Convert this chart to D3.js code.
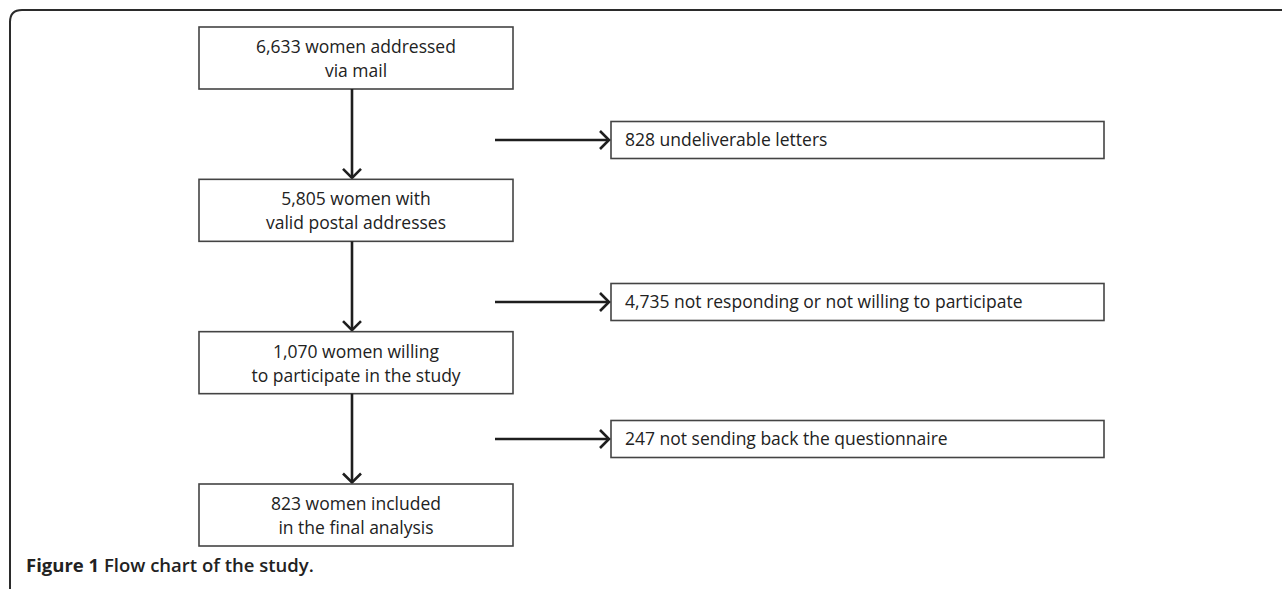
<!DOCTYPE html>
<html>
<head>
<meta charset="utf-8">
<script src="https://cdn.jsdelivr.net/npm/d3@7/dist/d3.min.js"></script>
<style>
  html, body { margin: 0; padding: 0; background: #ffffff; }
  svg { display: block; }
</style>
</head>
<body>
<script>
// ---- data ----
const mainSteps = [
  ["6,633 women addressed", "via mail"],
  ["5,805 women with", "valid postal addresses"],
  ["1,070 women willing", "to participate in the study"],
  ["823 women included", "in the final analysis"]
];
const exclusions = [
  "828 undeliverable letters",
  "4,735 not responding or not willing to participate",
  "247 not sending back the questionnaire"
];
const captionBold = "Figure 1";
const captionText = "Flow chart of the study.";

// ---- layout ----
const W = 1282, H = 589;
const font = "'Open Sans', 'DejaVu Sans', sans-serif";
const svg = d3.select("body").append("svg").attr("width", W).attr("height", H);

// scales
const yMain = d3.scaleLinear().domain([0, mainSteps.length - 1]).range([27, 484]);
const mainBoxH = 62;
const xMain = d3.scaleLinear().domain([0, 1]).range([199, 513]);
const ySide = d3.scaleLinear().domain([0, 1, 2]).range([140, 302, 439]);
const sideBoxH = 37;
const xSide = d3.scaleLinear().domain([0, 1]).range([611, 1104]);
const arrowX = 352;
const hArrowStart = 495;

// outer frame (top + left with rounded corner)
const fx = 10, fy = 10, r = 12;
svg.append("path")
  .attr("d", `M${fx},${H} L${fx},${fy + r} Q${fx},${fy} ${fx + r},${fy} L${W},${fy}`)
  .attr("fill", "none").attr("stroke", "#2b2b2b").attr("stroke-width", 2);

// arrow head helper
function chevron(g, x, y, dir) {
  const s = 9;
  let d;
  if (dir === "down") d = `M${x - s},${y - s} L${x},${y} L${x + s},${y - s}`;
  else d = `M${x - s},${y - s} L${x},${y} L${x - s},${y + s}`;
  g.append("path").attr("d", d).attr("fill", "none")
    .attr("stroke", "#1e1e1e").attr("stroke-width", 2.6)
    .attr("stroke-linejoin", "miter").attr("stroke-linecap", "butt");
}

// main boxes
const mg = svg.append("g");
mainSteps.forEach((lines, i) => {
  const y0 = yMain(i);
  mg.append("rect")
    .attr("x", xMain(0)).attr("y", y0)
    .attr("width", xMain(1) - xMain(0)).attr("height", mainBoxH)
    .attr("fill", "#fff").attr("stroke", "#444").attr("stroke-width", 1.6);
  const cx = (xMain(0) + xMain(1)) / 2;
  const t = mg.append("text")
    .attr("x", cx).attr("text-anchor", "middle")
    .attr("font-family", font).attr("font-size", 17.5).attr("fill", "#222");
  lines.forEach((ln, j) => {
    t.append("tspan").attr("x", cx).attr("y", y0 + 26 + j * 24).text(ln);
  });
  // vertical arrow to next
  if (i < mainSteps.length - 1) {
    const ya = y0 + mainBoxH, yb = yMain(i + 1) - 1.5;
    mg.append("line").attr("x1", arrowX).attr("x2", arrowX)
      .attr("y1", ya).attr("y2", yb)
      .attr("stroke", "#1e1e1e").attr("stroke-width", 2.6);
    chevron(mg, arrowX, yb, "down");
  }
});

// side boxes with horizontal arrows
const sg = svg.append("g");
exclusions.forEach((txt, i) => {
  const cy = ySide(i);
  sg.append("rect")
    .attr("x", xSide(0)).attr("y", cy - sideBoxH / 2)
    .attr("width", xSide(1) - xSide(0)).attr("height", sideBoxH)
    .attr("fill", "#fff").attr("stroke", "#444").attr("stroke-width", 1.6);
  sg.append("text")
    .attr("x", xSide(0) + 14).attr("y", cy + 6)
    .attr("font-family", font).attr("font-size", 17.5).attr("fill", "#222")
    .text(txt);
  const xe = xSide(0) - 2;
  sg.append("line").attr("x1", hArrowStart).attr("x2", xe)
    .attr("y1", cy).attr("y2", cy)
    .attr("stroke", "#1e1e1e").attr("stroke-width", 2.6);
  chevron(sg, xe, cy, "right");
});

// caption
const cap = svg.append("text")
  .attr("x", 26).attr("y", 572)
  .attr("font-family", font).attr("font-size", 18.5).attr("fill", "#222");
cap.append("tspan").attr("font-weight", 700).text(captionBold + " ");
cap.append("tspan").attr("font-weight", 600).text(captionText);
</script>
</body>
</html>
